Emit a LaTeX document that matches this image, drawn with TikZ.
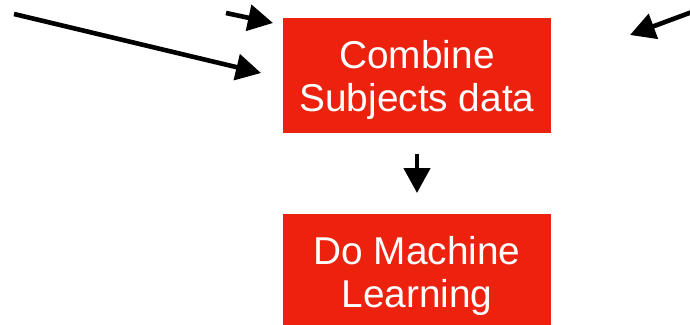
\documentclass[tikz,border=0pt]{standalone}
\usepackage{fontspec}
\setmainfont{Liberation Sans}
\usetikzlibrary{arrows.meta}
\definecolor{boxred}{RGB}{236,33,14}
\tikzset{
  redbox/.style={fill=boxred, draw=none, minimum width=268pt,
    minimum height=115pt, inner sep=0pt},
  boxtext/.style={text=white, align=center, inner sep=0pt,
    font=\fontsize{38.8}{43}\selectfont},
  flowarrow/.style={line width=4.6pt, -{Triangle[length=25pt,width=26pt]}}
}
\begin{document}
\begin{tikzpicture}[x=1pt,y=-1pt]
\useasboundingbox (0,0) rectangle (690,324);
\node[redbox] (combine) at (417,75.5) {};
\node[boxtext] (combinetext) at ([yshift=-4.5pt]combine.center) {Combine\\Subjects data};
\node[redbox] (ml) at (417,271.5) {};
\node[boxtext] (mltext) at ([yshift=-4.5pt]ml.center) {Do Machine\\Learning};
\coordinate (s1) at (14,14);
\coordinate (t1) at (261,73);
\coordinate (s2) at (226,13);
\coordinate (t2) at (273,23);
\coordinate (s3) at (692,12);
\coordinate (t3) at (630,35);
\coordinate (d1) at (417,154);
\coordinate (d2) at (417,193);
\draw[flowarrow] (s1) -- (t1);
\draw[flowarrow] (s2) -- (t2);
\draw[flowarrow] (s3) -- (t3);
\draw[flowarrow] (combine.south |- d1) -- (combine.south |- d2);
\end{tikzpicture}
\end{document}
